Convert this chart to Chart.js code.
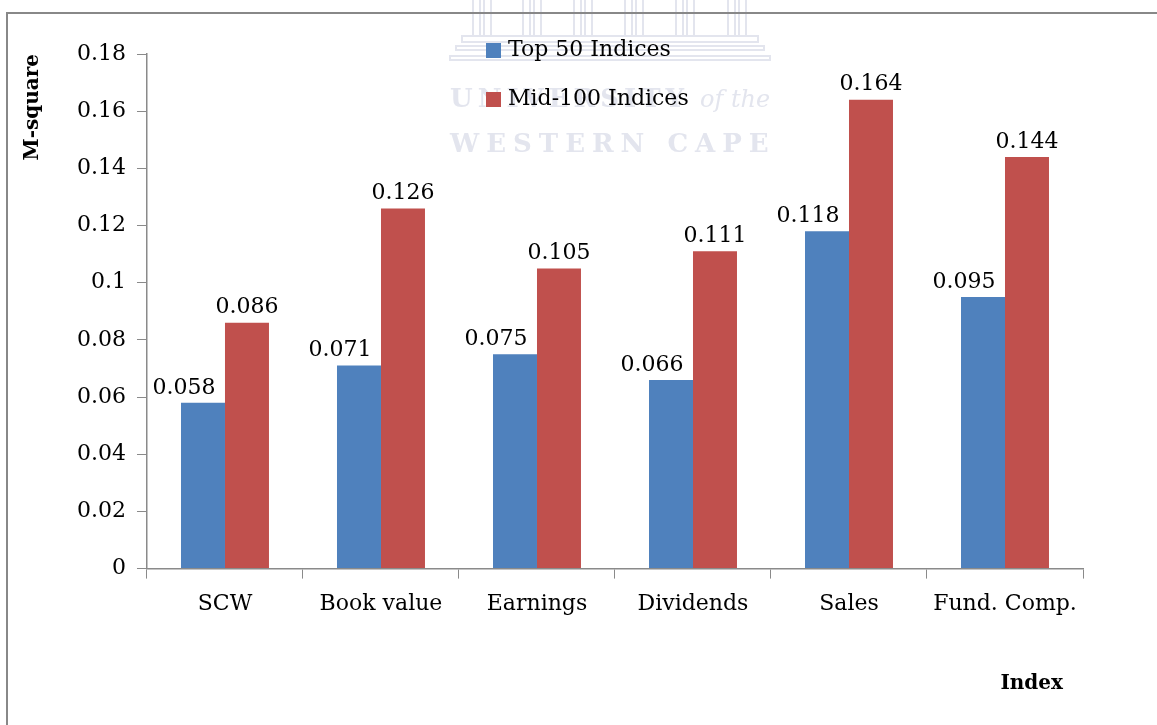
<!DOCTYPE html>
<html>
<head>
<meta charset="utf-8">
<script src="https://cdn.jsdelivr.net/npm/chart.js@4.4.1/dist/chart.umd.min.js"></script>
<style>
  html, body { margin: 0; padding: 0; background: #fff; }
  #wrap { width: 1157px; height: 725px; position: relative; }
</style>
</head>
<body>
<div id="wrap"><canvas id="mChart" width="1157" height="725"></canvas></div>
<script>
// chart data
const categories = ["SCW", "Book value", "Earnings", "Dividends", "Sales", "Fund. Comp."];
const top50Values = [0.058, 0.071, 0.075, 0.066, 0.118, 0.095];
const mid100Values = [0.086, 0.126, 0.105, 0.111, 0.164, 0.144];
const seriesNames = ["Top 50 Indices", "Mid-100 Indices"];
const yTicks = [0, 0.02, 0.04, 0.06, 0.08, 0.1, 0.12, 0.14, 0.16, 0.18];

const FONT = "'DejaVu Serif', serif";
const AXIS_GRAY = "#8a8a8a";

// background, frame and the faint university watermark
const backdrop = {
    id: "backdrop",
    beforeDraw(chart) {
        const ctx = chart.ctx;
        ctx.save();
        ctx.fillStyle = "#fff";
        ctx.fillRect(0, 0, chart.width, chart.height);

        // watermark
        const wm = "#e3e5ee";
        ctx.strokeStyle = wm;
        ctx.lineWidth = 2;
        [473, 523, 574, 625, 676, 728].forEach((cx) => {
            ctx.strokeRect(cx, -2, 7, 38);
            ctx.strokeRect(cx + 11, -2, 7, 38);
        });
        ctx.strokeRect(462, 36, 296, 6);
        ctx.strokeRect(456, 46, 308, 4);
        ctx.strokeRect(450, 56, 320, 4);

        ctx.fillStyle = wm;
        ctx.textBaseline = "alphabetic";
        ctx.font = "bold 26px " + FONT;
        ctx.letterSpacing = "5px";
        ctx.fillText("UNIVERSITY", 450, 107);
        ctx.font = "italic 24px " + FONT;
        ctx.letterSpacing = "0px";
        ctx.fillText("of the", 700, 107);
        ctx.font = "bold 26px " + FONT;
        ctx.letterSpacing = "7px";
        ctx.fillText("WESTERN CAPE", 450, 152);
        ctx.letterSpacing = "0px";

        // frame lines (left and top only are visible)
        ctx.fillStyle = "#888";
        ctx.fillRect(6, 12, chart.width - 6, 2);
        ctx.fillRect(6, 12, 2, chart.height - 12);
        ctx.restore();
    },
};

// value labels above the bars
const valueLabels = {
    id: "valueLabels",
    afterDatasetsDraw(chart) {
        const ctx = chart.ctx;
        ctx.save();
        ctx.font = "22px " + FONT;
        ctx.fillStyle = "#000";
        ctx.textAlign = "center";
        ctx.textBaseline = "bottom";
        chart.data.datasets.forEach((ds, i) => {
            const meta = chart.getDatasetMeta(i);
            const shift = i === 0 ? -19 : 0;
            meta.data.forEach((bar, j) => {
                ctx.fillText(String(ds.data[j]), bar.x + shift, bar.y - 4);
            });
        });
        ctx.restore();
    },
};

// legend stacked vertically inside the plot
const boxLegend = {
    id: "boxLegend",
    afterDraw(chart) {
        const ctx = chart.ctx;
        const left = 486;
        const rows = [50, 99];
        ctx.save();
        ctx.font = "22px " + FONT;
        ctx.textBaseline = "middle";
        ctx.textAlign = "left";
        chart.data.datasets.forEach((ds, i) => {
            const y = rows[i];
            ctx.fillStyle = ds.backgroundColor;
            ctx.fillRect(left, y - 7, 15, 15);
            ctx.fillStyle = "#000";
            ctx.fillText(ds.label, left + 22, y);
        });
        ctx.restore();
    },
};

new Chart(document.getElementById("mChart"), {
    type: "bar",
    data: {
        labels: categories,
        datasets: [
            {
                label: seriesNames[0],
                data: top50Values,
                backgroundColor: "#4f81bd",
                categoryPercentage: 0.564,
                barPercentage: 1.0,
            },
            {
                label: seriesNames[1],
                data: mid100Values,
                backgroundColor: "#c0504d",
                categoryPercentage: 0.564,
                barPercentage: 1.0,
            },
        ],
    },
    options: {
        responsive: false,
        animation: false,
        events: [],
        layout: {
            padding: { top: 54, left: 4, right: 74, bottom: 29 },
        },
        plugins: {
            legend: { display: false },
            tooltip: { enabled: false },
        },
        scales: {
            x: {
                grid: {
                    display: true,
                    drawOnChartArea: false,
                    drawTicks: true,
                    tickLength: 10,
                    color: AXIS_GRAY,
                    offset: true,
                },
                border: { color: AXIS_GRAY, width: 1.5 },
                ticks: {
                    font: { family: FONT, size: 22 },
                    color: "#000",
                    padding: 12,
                    maxRotation: 0,
                },
                title: {
                    display: true,
                    text: "Index\u2003",
                    align: "end",
                    font: { family: FONT, size: 20, weight: "bold" },
                    color: "#000",
                    padding: { top: 43, bottom: 0 },
                },
            },
            y: {
                min: 0,
                max: 0.18,
                afterBuildTicks: (axis) => {
                    axis.ticks = yTicks.map((v) => ({ value: v }));
                },
                grid: {
                    display: true,
                    drawOnChartArea: false,
                    drawTicks: true,
                    tickLength: 10,
                    color: AXIS_GRAY,
                },
                border: { color: AXIS_GRAY, width: 1.5 },
                ticks: {
                    font: { family: FONT, size: 22 },
                    color: "#000",
                    padding: 11,
                    callback: (v) => String(parseFloat(Number(v).toFixed(2))),
                },
                title: {
                    display: true,
                    text: "M-square",
                    align: "end",
                    font: { family: FONT, size: 20, weight: "bold" },
                    color: "#000",
                    padding: { top: 17, bottom: 21 },
                },
            },
        },
    },
    plugins: [backdrop, valueLabels, boxLegend],
});
</script>
</body>
</html>
